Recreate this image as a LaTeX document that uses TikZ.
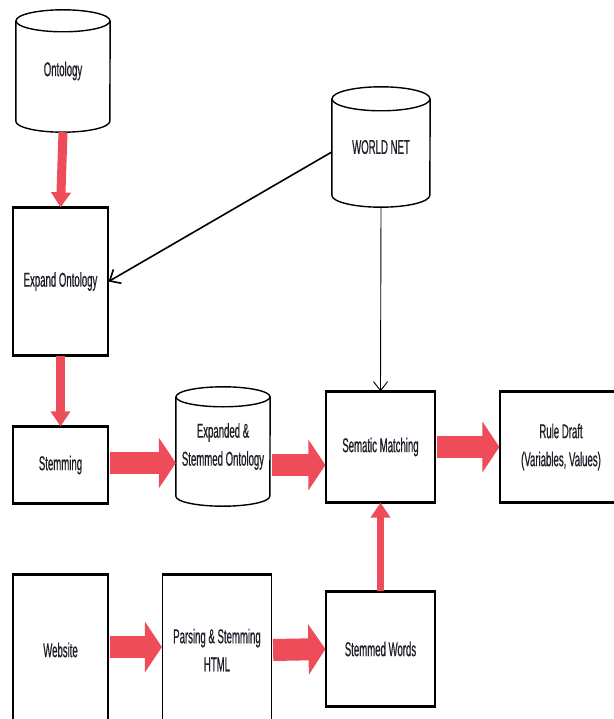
\documentclass[tikz,border=0pt]{standalone}
\usepackage{fontspec}
\setmainfont[FakeStretch=0.48,FakeBold=0.6]{Liberation Sans}
\usetikzlibrary{arrows.meta,calc}
\definecolor{redarr}{RGB}{238,76,88}
\definecolor{txt}{RGB}{30,30,40}
\newcommand\drawcylinder[3]{%
  \draw[line width=1.4pt] (#1.north west) -- (#1.south west)
    arc[start angle=180,end angle=360,x radius=#2,y radius=#3] -- (#1.north east);
  \draw[line width=1.4pt] (#1.north) ellipse[x radius=#2,y radius=#3];}
\begin{document}
\begin{tikzpicture}[x=1pt,y=1pt,
  every node/.style={font=\fontsize{20}{28}\selectfont, text=txt, align=center, inner sep=0pt},
  boxnode/.style={draw=black, line width=1.2pt},
  cylnode/.style={},
  edgeline/.style={line width=2.6pt},
  fatarrow/.style={redarr, line width=22pt, -{Triangle[width=50pt,length=17pt]}},
  slimarrow/.style={redarr, line width=9pt, -{Triangle[width=19pt,length=15pt]}},
  blackarrow/.style={line width=1.6pt, -{Straight Barb[length=9pt,width=16pt]}},
  thinarrow/.style={line width=0.9pt, -{Straight Barb[length=9pt,width=14pt]}}]
\useasboundingbox (0,0) rectangle (613,-719);

% cylinders
\node[cylnode, minimum width=94, minimum height=100] (onto) at (63,-71) {Ontology};
\node[cylnode, minimum width=98, minimum height=96] (world) at (381,-147) {WORLD NET};
\node[cylnode, minimum width=94, minimum height=99] (exst) at (223,-446.5) {Expanded \&\\Stemmed Ontology};
\drawcylinder{onto}{47}{11}
\drawcylinder{world}{49}{12}
\drawcylinder{exst}{47}{10}

% boxes
\node[boxnode, minimum width=95, minimum height=147] (expand) at (60.5,-281.5) {Expand Ontology};
\node[boxnode, minimum width=95, minimum height=76] (stem) at (60.5,-465) {Stemming};
\node[boxnode, minimum width=109, minimum height=110] (sem) at (380.5,-447) {Sematic Matching};
\node[boxnode, minimum width=122, minimum height=110] (rule) at (561,-447) {Rule Draft\\(Variables, Values)};
\node[boxnode, minimum width=95, minimum height=150] (web) at (60.5,-650) {Website};
\node[boxnode, minimum width=109, minimum height=150] (parse) at (217,-650) {Parsing \& Stemming\\HTML};
\node[boxnode, minimum width=109, minimum height=114] (words) at (380.5,-649) {Stemmed Words};
\foreach \n in {expand,stem,sem,rule,web,parse,words}{
  \draw[edgeline] (\n.north west) -- (\n.north east) (\n.south west) -- (\n.south east);}

% red arrows
\draw[slimarrow] ([yshift=-11pt]onto.south) -- (expand.north);
\draw[slimarrow] (expand.south) -- (stem.north);
\draw[fatarrow] ([xshift=1pt,yshift=2pt]stem.east) -- ([yshift=2pt]stem.east -| exst.west);
\draw[fatarrow] ([xshift=2pt]exst.east |- stem.east) -- (sem.west |- stem.east);
\draw[fatarrow] ([xshift=1pt]sem.east) -- (rule.west);
\draw[fatarrow] ([xshift=1pt,yshift=3pt]web.east) -- ([yshift=3pt]parse.west);
\draw[fatarrow] ([xshift=1pt]parse.east) -- (words.west);
\draw[slimarrow, line width=7pt] (words.north) -- (sem.south);

% black arrows
\draw[blackarrow] ([yshift=-5pt]world.west) -- (expand.east);
\draw[thinarrow] ([yshift=-12pt]world.south) -- (sem.north);
\end{tikzpicture}
\end{document}
